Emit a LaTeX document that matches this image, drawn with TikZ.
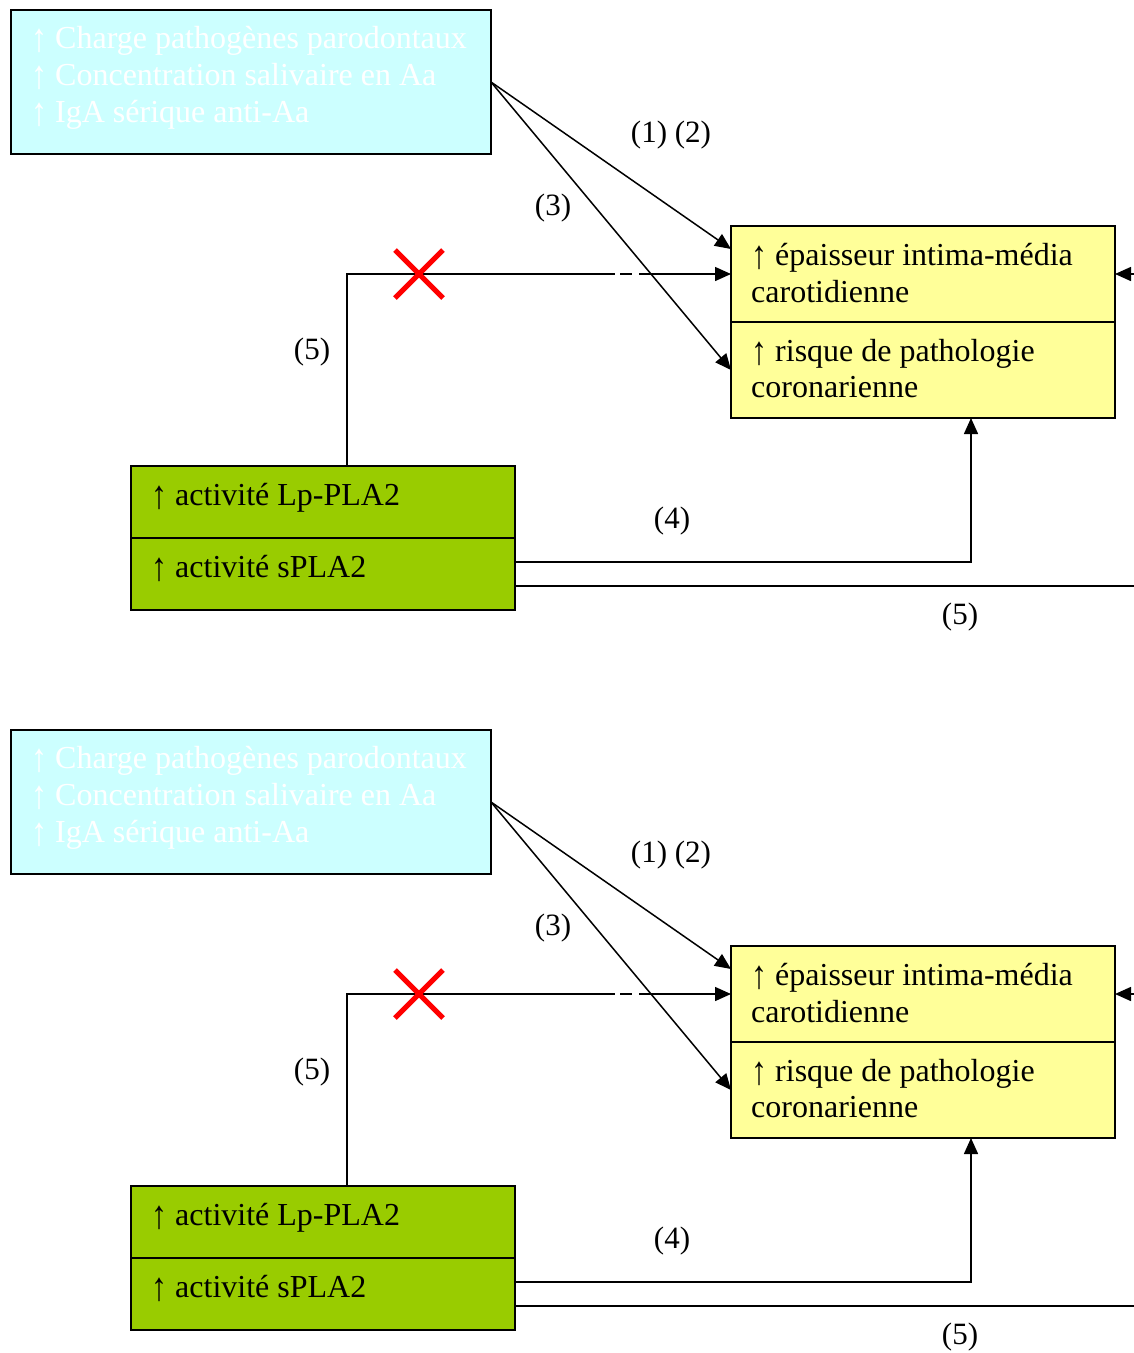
\documentclass[tikz,border=0pt]{standalone}
\usepackage{fontspec}
\setmainfont{Liberation Serif}
\usetikzlibrary{arrows.meta,calc}
\newcommand\uparr{\smash{\raisebox{-3pt}{\scalebox{1}[1.25]{↑}}}}
\tikzset{
  box/.style={draw=black, line width=2pt, inner sep=0pt, outer sep=0pt},
  cybox/.style={box, fill=cyanfill},
  yebox/.style={box, fill=yellowfill},
  grbox/.style={box, fill=greenfill},
  txt/.style={anchor=base west, inner sep=0pt, font=\fontsize{32}{37}\selectfont},
  lbl/.style={inner sep=0pt, font=\fontsize{31}{37}\selectfont},
  conn/.style={line width=1.5pt},
  arr/.style={conn, -{Triangle[length=16pt,width=14pt]}},
  cross/.style={draw=red, line width=5pt},
}
\definecolor{cyanfill}{HTML}{CCFFFF}
\definecolor{yellowfill}{HTML}{FFFF99}
\definecolor{greenfill}{HTML}{99CC00}
\begin{document}
\begin{tikzpicture}[x=1pt,y=-1pt]
\useasboundingbox (0,0) rectangle (1134,1353);
\foreach \o/\p in {0/A,720/B}{
\begin{scope}[shift={(0,\o)}]
  % boxes
  \node[cybox, minimum width=480pt, minimum height=144pt] (\p cy) at (251,82) {};
  \node[yebox, minimum width=384pt, minimum height=96pt] (\p yt) at (923,274) {};
  \node[yebox, minimum width=384pt, minimum height=96pt] (\p yb) at (923,370) {};
  \node[grbox, minimum width=384pt, minimum height=72pt] (\p gt) at (323,502) {};
  \node[grbox, minimum width=384pt, minimum height=72pt] (\p gb) at (323,574) {};
  % texts
  \node[txt, text=white] (\p c1) at (31,48) {\uparr{} Charge pathogènes parodontaux};
  \node[txt, text=white] (\p c2) at (31,85) {\uparr{} Concentration salivaire en Aa};
  \node[txt, text=white] (\p c3) at (31,122) {\uparr{} IgA sérique anti-Aa};
  \node[txt] (\p y1) at (751,265) {\uparr{} épaisseur intima-média};
  \node[txt] (\p y2) at (751,302) {carotidienne};
  \node[txt] (\p y3) at (751,361) {\uparr{} risque de pathologie};
  \node[txt] (\p y4) at (751,397) {coronarienne};
  \node[txt] (\p g1) at (151,505) {\uparr{} activité Lp-PLA2};
  \node[txt] (\p g2) at (151,577) {\uparr{} activité sPLA2};
  % labels
  \node[lbl] (\p l12) at (671,135) {(1) (2)};
  \node[lbl] (\p l3) at (553,208) {(3)};
  \node[lbl] (\p l5a) at (312,352) {(5)};
  \node[lbl] (\p l4) at (672,521) {(4)};
  \node[lbl] (\p l5b) at (960,617) {(5)};
  % coordinates
  \coordinate (\p dsh) at (615,274);
  \coordinate (\p rin) at (1134,274);
  \coordinate (\p rout) at (1134,586);
  \coordinate (\p xc) at (419,274);
  % connectors
  \draw[arr] (\p cy.east) -- ([yshift=25pt]\p yt.west);
  \draw[arr] (\p cy.east) -- (\p yb.west);
  \draw[conn] ([xshift=24pt]\p gt.north) |- (\p dsh);
  \draw[arr, dash pattern=on 0pt off 5pt on 12pt off 7pt on 300pt off 0pt] (\p dsh) -- (\p yt.west);
  \draw[arr] ([yshift=12pt]\p gb.east) -| ([xshift=48pt]\p yb.south);
  \draw[line width=2pt] ([yshift=-12pt]\p gb.east) -- (\p rout);
  \draw[arr] (\p rin) -- (\p yt.east);
  % red cross
  \draw[cross] ($(\p xc)+(-24,-24)$) -- ($(\p xc)+(24,24)$);
  \draw[cross] ($(\p xc)+(-24,24)$) -- ($(\p xc)+(24,-24)$);
\end{scope}
}
\end{tikzpicture}
\end{document}
